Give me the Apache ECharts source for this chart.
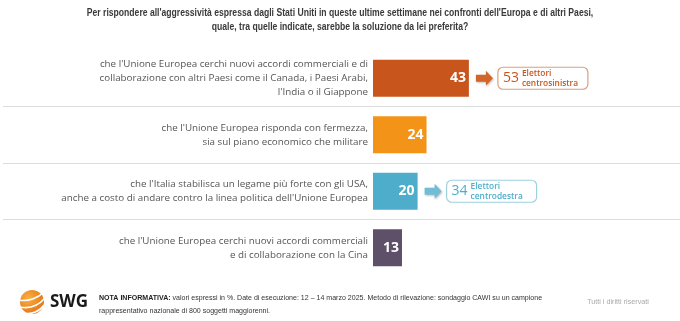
<!DOCTYPE html>
<html><head><meta charset="utf-8">
<script src="https://cdn.jsdelivr.net/npm/echarts@6/dist/echarts.min.js"></script>
<style>html,body{margin:0;padding:0;background:#fff}#c{width:680px;height:321px}</style>
</head><body><div id="c"></div>
<script>
const titleLines = [
  "Per rispondere all'aggressività espressa dagli Stati Uniti in queste ultime settimane nei confronti dell'Europa e di altri Paesi,",
  "quale, tra quelle indicate, sarebbe la soluzione da lei preferita?"
];
const categories = [
  "che l'Unione Europea cerchi nuovi accordi commerciali e di\ncollaborazione con altri Paesi come il Canada, i Paesi Arabi,\nl'India o il Giappone",
  "che l'Unione Europea risponda con fermezza,\nsia sul piano economico che militare",
  "che l'Italia stabilisca un legame più forte con gli USA,\nanche a costo di andare contro la linea politica dell'Unione Europea",
  "che l'Unione Europea cerchi nuovi accordi commerciali\ne di collaborazione con la Cina"
];
const values = [43, 24, 20, 13];
const barColors = ['#c8561c', '#f39419', '#4eadcb', '#5d5068'];
const subgroupValues = [53, null, 34, null];
const subgroupLabels = ['Elettori\ncentrosinistra', null, 'Elettori\ncentrodestra', null];
const subgroupColors = ['#c8561c', null, '#4eadcb', null];
const subgroupBorders = ['#d9a07e', null, '#9fd0e2', null];
const arrowColors = ['#d2652a', null, '#72bcd6', null];
const noteBold = 'NOTA INFORMATIVA:';
const noteText1 = ' valori espressi in %. Date di esecuzione: 12 – 14 marzo 2025. Metodo di rilevazione: sondaggio CAWI su un campione';
const noteText2 = 'rappresentativo nazionale di 800 soggetti maggiorenni.';
const rightsText = 'Tutti i diritti riservati';

const chart = echarts.init(document.getElementById('c'), null, {renderer: 'canvas'});
const annData = [];
values.forEach((v, i) => { if (subgroupValues[i] != null) annData.push({value: [v, i, subgroupValues[i]], idx: i}); });

const catFont = 'Open Sans';
const narrow = 'Liberation Sans, sans-serif';

chart.setOption({
  animation: false,
  grid: [
    {left: 373, right: 84, top: 50, bottom: 45},
    {left: 3, right: 0, top: 50, bottom: 45}
  ],
  xAxis: [
    {gridIndex: 0, type: 'value', min: 0, max: 100, show: false},
    {gridIndex: 1, type: 'value', min: 0, max: 100, show: false}
  ],
  yAxis: [
    {gridIndex: 0, type: 'category', data: categories, inverse: true,
      axisLine: {show: false}, axisTick: {show: false}, splitLine: {show: false},
      axisLabel: {margin: 5, fontFamily: catFont, fontSize: 9.8, color: '#555', lineHeight: 14, align: 'right'}},
    {gridIndex: 1, type: 'category', data: categories, inverse: true,
      axisLine: {show: false}, axisTick: {show: false}, axisLabel: {show: false},
      splitLine: {show: true, showMinLine: false, showMaxLine: false, lineStyle: {color: '#dcdcdc', width: 1.2}}}
  ],
  series: [
    {
      type: 'bar', xAxisIndex: 0, yAxisIndex: 0, barWidth: 37,
      data: values.map((v, i) => ({value: v, itemStyle: {color: barColors[i]}})),
      label: {show: true, position: 'insideRight', distance: 3, color: '#fff', fontFamily: 'Open Sans', fontWeight: 'bold', fontSize: 14}
    },
    {
      type: 'custom', xAxisIndex: 0, yAxisIndex: 0, data: annData,
      renderItem: function (params, api) {
        const item = annData[params.dataIndex];
        const i = item.idx;
        const p = api.coord([api.value(0), api.value(1)]);
        const x0 = p[0] + 7, y = p[1];
        const bx = p[0] + 29;
        return {
          type: 'group',
          children: [
            {type: 'polygon', shape: {points: [[x0, y - 3.5], [x0 + 10, y - 3.5], [x0 + 10, y - 7.5], [x0 + 17, y], [x0 + 10, y + 7.5], [x0 + 10, y + 3.5], [x0, y + 3.5]]},
              style: {fill: arrowColors[i], shadowBlur: 2, shadowColor: 'rgba(0,0,0,0.25)', shadowOffsetX: 1, shadowOffsetY: 1}},
            {type: 'rect', shape: {x: bx, y: y - 11, width: 90, height: 22, r: 5},
              style: {fill: '#fff', stroke: subgroupBorders[i], lineWidth: 1.2}},
            {type: 'text', x: bx + 5, y: y, style: {text: String(api.value(2)), fill: subgroupColors[i], fontFamily: 'Open Sans', fontSize: 14, verticalAlign: 'middle', align: 'left'}},
            {type: 'text', x: bx + 24, y: y, scaleX: 0.88, style: {text: subgroupLabels[i], fill: subgroupColors[i], fontFamily: 'Open Sans', fontWeight: 600, fontSize: 9.5, lineHeight: 9.5, verticalAlign: 'middle', align: 'left'}}
          ]
        };
      }
    }
  ],
  graphic: [
    {type: 'text', x: 340, y: 6, scaleX: 0.82, style: {text: titleLines.join('\n'), fontFamily: narrow, fontSize: 10.5, fontWeight: 'bold', fill: '#3a3a3a', lineHeight: 14, align: 'center', verticalAlign: 'top'}},
    {type: 'circle', shape: {cx: 32, cy: 302, r: 12},
      style: {fill: new echarts.graphic.RadialGradient(0.35, 0.35, 0.8, [{offset: 0, color: '#fbb040'}, {offset: 1, color: '#e06a12'}])}},
    {type: 'bezierCurve', shape: {x1: 19, y1: 300, x2: 44, y2: 292, cpx1: 28, cpy1: 302, cpx2: 38, cpy2: 298}, style: {stroke: '#fff', lineWidth: 1.6, fill: null}},
    {type: 'bezierCurve', shape: {x1: 20, y1: 307, x2: 45, y2: 298, cpx1: 30, cpy1: 309, cpx2: 39, cpy2: 305}, style: {stroke: '#fff', lineWidth: 1.6, fill: null}},
    {type: 'bezierCurve', shape: {x1: 23, y1: 313, x2: 44, y2: 305, cpx1: 32, cpy1: 315, cpx2: 40, cpy2: 311}, style: {stroke: '#fff', lineWidth: 1.6, fill: null}},
    {type: 'text', x: 50, y: 302, style: {text: 'SWG', fontFamily: 'Open Sans', fontWeight: 'bold', fontSize: 17, fill: '#1a1a1a', verticalAlign: 'middle'}},
    {type: 'text', x: 99, y: 298, scaleX: 0.88, style: {text: '{b|' + noteBold + '}' + noteText1, fontFamily: narrow, fontSize: 8, fill: '#333', verticalAlign: 'middle',
      rich: {b: {fontWeight: 'bold', fontFamily: narrow, fontSize: 8, fill: '#222'}}}},
    {type: 'text', x: 99, y: 311, scaleX: 0.88, style: {text: noteText2, fontFamily: narrow, fontSize: 8, fill: '#333', verticalAlign: 'middle'}},
    {type: 'text', x: 618, y: 302, scaleX: 0.9, style: {text: rightsText, fontFamily: narrow, fontSize: 8, fill: '#aaa', verticalAlign: 'middle', align: 'center'}}
  ]
});
</script></body></html>
